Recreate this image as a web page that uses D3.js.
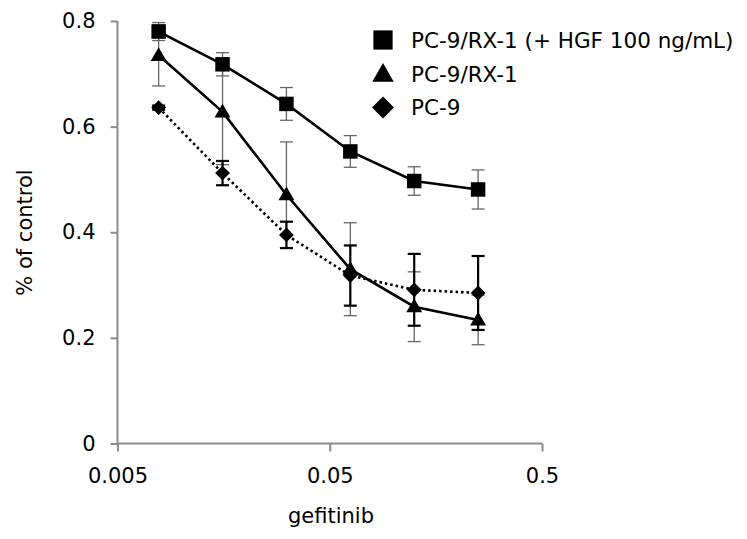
<!DOCTYPE html>
<html><head><meta charset="utf-8">
<script src="https://cdn.jsdelivr.net/npm/d3@7"></script>
<style>body{margin:0;background:#fff}svg{display:block}text{font-family:"DejaVu Sans",Verdana,sans-serif;fill:#000}</style>
</head><body>
<svg id="c" width="747" height="539"></svg>
<script>
const doses = [0.0078125, 0.015625, 0.03125, 0.0625, 0.125, 0.25];
const hgfVals = [0.780, 0.718, 0.643, 0.553, 0.497, 0.481];
const hgfErr  = [0.017, 0.022, 0.031, 0.030, 0.027, 0.037];
const rx1Vals = [0.735, 0.628, 0.471, 0.330, 0.259, 0.234];
const rx1Err  = [0.058, 0.100, 0.100, 0.088, 0.066, 0.047];
const pc9Vals = [0.636, 0.512, 0.395, 0.318, 0.291, 0.285];
const pc9Err  = [0.004, 0.023, 0.025, 0.057, 0.068, 0.070];
const seriesNames = ["PC-9/RX-1 (+ HGF 100 ng/mL)", "PC-9/RX-1", "PC-9"];
const xTicks = [0.005, 0.05, 0.5];
const xTickLabels = ["0.005", "0.05", "0.5"];
const yTicks = [0, 0.2, 0.4, 0.6, 0.8];
const yTickLabels = ["0", "0.2", "0.4", "0.6", "0.8"];
const xTitle = "gefitinib";
const yTitle = "% of control";

const svg = d3.select("#c");
const x = d3.scaleLog().domain([0.005, 0.5]).range([117.5, 542]);
const y = d3.scaleLinear().domain([0, 0.8]).range([443.5, 21]);

const squareSym = d3.symbolSquare;
const diamondSym = { draw(ctx, size) { const r = Math.sqrt(size / 2); ctx.moveTo(0, -r); ctx.lineTo(r, 0); ctx.lineTo(0, r); ctx.lineTo(-r, 0); ctx.closePath(); } };

const series = [
  {name: seriesNames[0], vals: hgfVals, err: hgfErr, sym: squareSym, size: 210, lsize: 370, dy: 0, ldy: 0, dash: null, eColor: "#666", eW: 1.3},
  {name: seriesNames[1], vals: rx1Vals, err: rx1Err, sym: d3.symbolTriangle, size: 110, lsize: 200, dy: 1, ldy: 1.5, dash: null, eColor: "#666", eW: 1.3},
  {name: seriesNames[2], vals: pc9Vals, err: pc9Err, sym: diamondSym, size: 110, lsize: 240, dy: 0, ldy: 0, dash: "2.5,3", eColor: "#000", eW: 2.2}
];

// axes
const axG = svg.append("g");
const yAxis = d3.axisLeft(y).tickValues(yTicks).tickFormat((d,i)=>yTickLabels[i]).tickSize(7).tickPadding(15);
const gy = axG.append("g").attr("transform", `translate(${x(0.005)},0)`).call(yAxis);
const xAxis = d3.axisBottom(x).tickValues(xTicks).tickFormat((d,i)=>xTickLabels[i]).tickSize(8).tickPadding(17);
const gx = axG.append("g").attr("transform", `translate(0,${y(0)})`).call(xAxis);
[gx, gy].forEach(g=>{
  g.select(".domain").attr("stroke", "#8c8c8c").attr("stroke-width", 2);
  g.selectAll(".tick line").attr("stroke", "#8c8c8c").attr("stroke-width", 2);
  g.selectAll(".tick text").style("font-size", "21px").attr("fill", "#000").style("font-family", '"DejaVu Sans",Verdana,sans-serif');
});
gy.select(".domain").attr("d", `M0,${y(0.8)}V${y(0)}`);
gx.select(".domain").attr("d", `M${x(0.005)},0H${x(0.5)}`);

// titles
svg.append("text").attr("x", 331).attr("y", 523).attr("text-anchor", "middle").style("font-size", "21px").text(xTitle);
svg.append("text").attr("transform", `translate(32,232.5) rotate(-90)`).attr("text-anchor", "middle").style("font-size", "21px").text(yTitle);

// error bars
series.forEach(s=>{
  const g = svg.append("g").attr("stroke", s.eColor).attr("stroke-width", s.eW).attr("fill", "none");
  s.vals.forEach((v,i)=>{
    const cx = x(doses[i]), y1 = y(v + s.err[i]), y2 = y(v - s.err[i]);
    g.append("line").attr("x1", cx).attr("x2", cx).attr("y1", y1).attr("y2", y2);
    g.append("line").attr("x1", cx-6.5).attr("x2", cx+6.5).attr("y1", y1).attr("y2", y1);
    g.append("line").attr("x1", cx-6.5).attr("x2", cx+6.5).attr("y1", y2).attr("y2", y2);
  });
});

// lines
const line = d3.line().x((d,i)=>x(doses[i])).y(d=>y(d));
series.forEach(s=>{
  svg.append("path").attr("d", line(s.vals)).attr("fill", "none").attr("stroke", "#000")
    .attr("stroke-width", 2.6).attr("stroke-dasharray", s.dash);
});

// markers
series.forEach(s=>{
  const sym = d3.symbol().type(s.sym).size(s.size);
  svg.append("g").selectAll("path").data(s.vals).join("path")
    .attr("d", sym).attr("fill", "#000")
    .attr("transform", (d,i)=>`translate(${x(doses[i])},${y(d) + s.dy})`);
});

// legend
const leg = svg.append("g");
const legY = [40, 74, 107.5];
series.forEach((s,i)=>{
  const cy = legY[i];
  leg.append("path").attr("d", d3.symbol().type(s.sym).size(s.lsize)()).attr("fill", "#000")
    .attr("transform", `translate(383,${cy + s.ldy})`);
  leg.append("text").attr("x", 411).attr("y", cy).attr("dy", "0.36em").style("font-size", "21.5px").text(s.name);
});
</script>
</body></html>
